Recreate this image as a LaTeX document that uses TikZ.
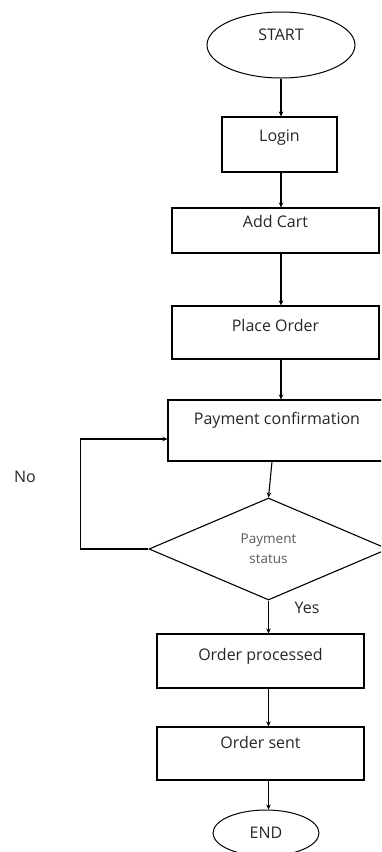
\documentclass[tikz,border=0pt]{standalone}
\usepackage{fontspec}
\setmainfont{Open Sans}
\usetikzlibrary{shapes.geometric,arrows.meta}
\begin{document}
\begin{tikzpicture}[x=1pt,y=-1pt,
  every node/.style={font=\fontsize{16}{19}\selectfont, text=black!85},
  box/.style={draw=black, line width=1.1pt, rectangle, inner sep=0pt},
  oval/.style={draw=black, line width=1pt, ellipse, inner sep=0pt},
  lift/.style={text height=9pt, text depth=#1},
  arr/.style={draw=black, line width=1.1pt, -{Stealth[length=5pt,width=4.5pt]}}]
\useasboundingbox (0,0) rectangle (381,852);
\clip (0,0) rectangle (381,852);
\node[oval, minimum width=148, minimum height=66, lift=18pt] (start) at (281,45) {START};
\node[box, minimum width=115, minimum height=55, lift=15pt] (login) at (279.5,144.5) {Login};
\node[box, minimum width=207, minimum height=45, lift=15pt] (cart) at (275.5,230.5) {Add Cart};
\node[box, minimum width=207, minimum height=53, lift=11pt] (place) at (275.5,332.5) {Place Order};
\node[box, minimum width=218, minimum height=61, lift=21pt] (pay) at (277,430.5) {Payment confirmation};
\node[diamond, draw=black, line width=1.1pt, inner sep=0pt, minimum width=239, minimum height=102,
  align=center, font=\fontsize{13.5}{20}\selectfont, text=black!65] (dec) at (268.5,549) {Payment\\status};
\node[box, minimum width=207, minimum height=54, lift=10pt] (proc) at (260.5,661) {Order processed};
\node[box, minimum width=207, minimum height=53, lift=19pt] (sent) at (260.5,753.5) {Order sent};
\node[oval, minimum width=106, minimum height=46] (end) at (266,833) {END};
\node (no) at (25,477) {No};
\node (yes) at (307,608) {Yes};
\draw[arr] (start.south) -- (start.south |- login.north);
\draw[arr] (start.south |- login.south) -- (start.south |- cart.north);
\draw[arr] (start.south |- cart.south) -- (start.south |- place.north);
\draw[arr] (start.south |- place.south) -- (start.south |- pay.north);
\draw[arr] ([xshift=-5pt]pay.south) -- (dec.north);
\draw[arr] (dec.west) -- ++(-68,0) |- ([yshift=-8.5pt]pay.west);
\draw[arr] (dec.south) -- (dec.south |- proc.north);
\draw[arr] (dec.south |- proc.south) -- (dec.south |- sent.north);
\draw[arr] (dec.south |- sent.south) -- (dec.south |- end.north);
\end{tikzpicture}
\end{document}
